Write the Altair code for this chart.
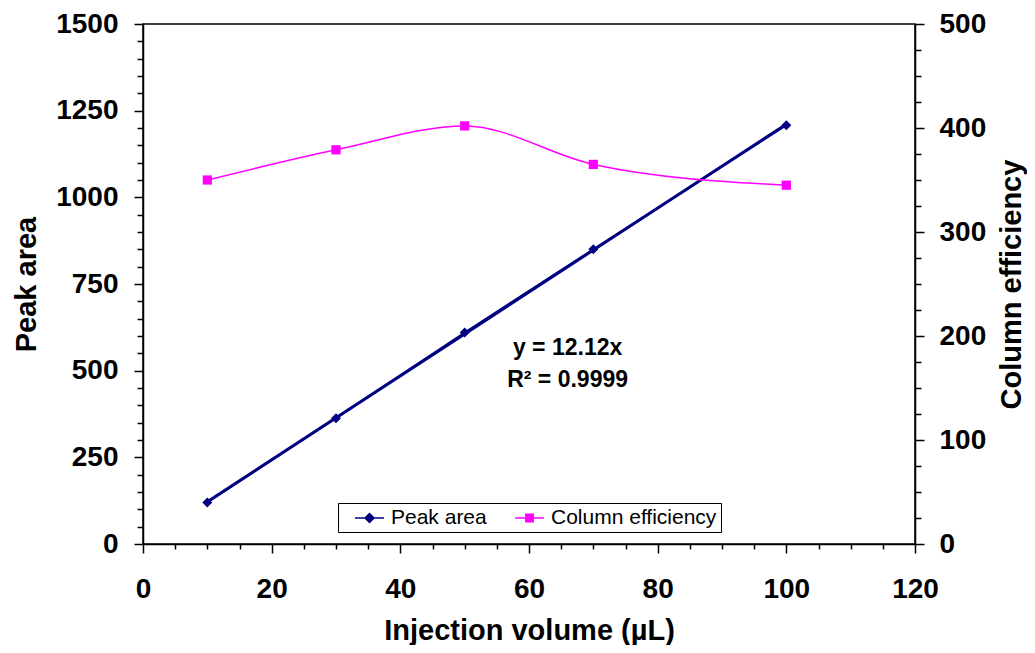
import altair as alt
import pandas as pd

# ---------------- data ----------------
volume = [10, 30, 50, 70, 100]
peak_area = [120, 363, 610, 850, 1208]
column_efficiency = [350, 379, 402, 365, 345]
series_names = ["Peak area", "Column efficiency"]
series_colors = ["#000080", "#FF00FF"]
eq_lines = ["y = 12.12x", "R² = 0.9999"]
eq_volume = [66, 66]
eq_peak = [566, 474]
x_tick_values = list(range(0, 121, 5))
left_tick_values = list(range(0, 1501, 50))
right_tick_values = list(range(0, 501, 25))

FONT = "Liberation Sans"

peak_df = pd.DataFrame({"volume": volume, "peak": peak_area, "series": series_names[0]})
eff_df = pd.DataFrame({"volume": volume, "eff": column_efficiency, "series": series_names[1]})
eq_df = pd.DataFrame({"volume": eq_volume, "peak": eq_peak, "text": eq_lines})


def cond(step, major, minor):
    return {"condition": {"test": f"datum.value % {step} === 0", "value": major}, "value": minor}


x_axis = alt.Axis(
    title="Injection volume (µL)", values=x_tick_values,
    labelExpr="datum.value % 20 === 0 ? datum.label : ''",
    tickSize=cond(20, 9, 5), labelPadding=22, titlePadding=13,
    labelFlush=False, labelOverlap=False, grid=False,
)
x_enc = alt.X("volume:Q", scale=alt.Scale(domain=[0, 120], nice=False, zero=False), axis=x_axis)

left_axis = alt.Axis(
    title="Peak area", orient="left", values=left_tick_values, format="d",
    labelExpr="datum.value % 250 === 0 ? datum.label : ''",
    tickSize=cond(250, 9, 6), labelPadding=16, titlePadding=14,
    labelOverlap=False, grid=False,
)
y_left = alt.Y("peak:Q", scale=alt.Scale(domain=[0, 1500], nice=False), axis=left_axis)

right_axis = alt.Axis(
    title="Column efficiency", orient="right", values=right_tick_values, format="d",
    labelExpr="datum.value % 100 === 0 ? datum.label : ''",
    tickSize=cond(100, 9, 6), labelPadding=15, titlePadding=12,
    titleAngle=270, titleBaseline="top",
    labelOverlap=False, grid=False,
)
y_right = alt.Y("eff:Q", scale=alt.Scale(domain=[0, 500], nice=False), axis=right_axis)

shape_expr = ("datum.value === 'Peak area' ? "
              "'M-1.45,0H1.45M0,-0.45L0.45,0L0,0.45L-0.45,0Z' : "
              "'M-1.45,0H1.45M-0.37,-0.37H0.37V0.37H-0.37Z'")
color_expr = "datum.value === 'Peak area' ? '#000080' : '#FF00FF'"

legend = alt.Legend(
    title=None, orient="none", legendX=195, legendY=479,
    direction="horizontal", columns=2,
    labelFont=FONT, labelFontSize=21, labelColor="black", labelLimit=0,
    strokeColor="black", fillColor="white", padding=4,
    symbolSize=400, symbolOffset=16.5, labelOffset=10.5, columnPadding=15,
    symbolStrokeWidth=1.5,
    symbolType=alt.ExprRef(expr=shape_expr),
    symbolStrokeColor=alt.ExprRef(expr=color_expr),
    symbolFillColor=alt.ExprRef(expr=color_expr),
)
color_enc = alt.Color("series:N", scale=alt.Scale(domain=series_names, range=series_colors), legend=legend)

peak_line = alt.Chart(peak_df).mark_line(color="#000080", strokeWidth=2).encode(x=x_enc, y=y_left)
trend = alt.Chart(peak_df).transform_regression(
    "volume", "peak", method="linear", extent=[10, 100]
).mark_line(color="#000080", strokeWidth=3).encode(x=x_enc, y=y_left)
peak_pts = alt.Chart(peak_df).mark_point(shape="diamond", filled=True, size=100, opacity=1).encode(
    x=x_enc, y=y_left, color=color_enc)
eq_text = alt.Chart(eq_df).mark_text(
    font=FONT, fontSize=23, fontWeight="bold", color="black", align="center", baseline="middle"
).encode(x=x_enc, y=y_left, text="text:N")

left = alt.layer(peak_line, trend, peak_pts, eq_text)

eff_line = alt.Chart(eff_df).mark_line(color="#FF00FF", strokeWidth=1.5, interpolate="monotone").encode(
    x=x_enc, y=y_right)
eff_pts = alt.Chart(eff_df).mark_square(size=85, opacity=1).encode(x=x_enc, y=y_right, color=color_enc)
right = alt.layer(eff_line, eff_pts)

chart = alt.layer(left, right).resolve_scale(y="independent").properties(
    width=1019, height=637,
    autosize=alt.AutoSizeParams(type="fit", contains="padding"),
    padding={"left": 4, "top": 2, "right": 0, "bottom": 0},
    background="white",
).configure_axis(
    labelFont=FONT, labelFontSize=28, labelFontWeight="bold", labelColor="black",
    titleFont=FONT, titleFontSize=29, titleFontWeight="bold", titleColor="black",
    domainColor="black", domainWidth=1.5, tickColor="black", tickWidth=1.5,
).configure_view(stroke="black", strokeWidth=1.5)

chart.save("out.html", embed_options={"renderer": "svg", "actions": False})
